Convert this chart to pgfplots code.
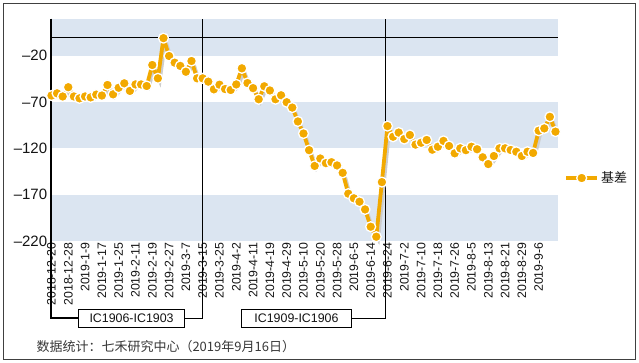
\documentclass[border=0pt]{standalone}
\usepackage{fontspec}
\setmainfont{Liberation Sans}
\newfontfamily\cjk{Noto Sans CJK SC}
\usepackage{pgfplots}
\pgfplotsset{compat=1.18}
\usepackage{pgfplotstable}
\definecolor{band}{RGB}{219,229,241}
\definecolor{ora}{RGB}{242,169,0}
\definecolor{shad}{RGB}{205,205,205}
\definecolor{txt}{RGB}{20,20,20}

\pgfplotstableread{
idx val
0 -63
1 -60.6
2 -64
3 -54
4 -64
5 -66
6 -64
7 -65
8 -62
9 -63
10 -51.6
11 -61.7
12 -54.6
13 -49.8
14 -58
15 -51
16 -51
17 -52.7
18 -30
19 -44.4
20 -1
21 -20.3
22 -27.5
23 -31
24 -37.3
25 -25.7
26 -44.4
27 -44.4
28 -48
29 -56.3
30 -51.3
31 -56
32 -57
33 -51
34 -33.6
35 -49.5
36 -55
37 -67
38 -53
39 -57.5
40 -67
41 -62.7
42 -70.2
43 -76
44 -91
45 -104
46 -122
47 -139
48 -131
49 -136
50 -135
51 -138.5
52 -146.5
53 -169
54 -174
55 -177.7
56 -186
57 -204.7
58 -215.5
59 -156.5
60 -96
61 -107.5
62 -103
63 -110
64 -105.6
65 -116
66 -114
67 -111
68 -121.5
69 -118.3
70 -112
71 -117.5
72 -125.4
73 -120
74 -122
75 -118.3
76 -121
77 -129.7
78 -137
79 -128.3
80 -120
81 -120
82 -121.8
83 -123.7
84 -128.3
85 -123.7
86 -125
87 -101
88 -98.5
89 -86
90 -102
}\basis

\begin{document}
\begin{tikzpicture}
\path[use as bounding box] (0pt,0pt) rectangle (639pt,363pt);
\draw[black!75, line width=0.9pt] (3.3pt,3.8pt) rectangle (635pt,359.7pt);
\begin{axis}[
  at={(50.7pt,122.1pt)}, anchor=south west, scale only axis,
  width=507.3pt, height=222.2pt,
  xmin=-0.14, xmax=90.45, ymin=-220, ymax=20,
  clip=false,
  axis line style={draw=none}, tick style={draw=none},
  ytick={-220,-170,-120,-70,-20},
  yticklabels={–220,–170,–120,–70,–20},
  yticklabel style={font=\fontsize{15}{15}\selectfont, text=txt},
  xtick={0,3,...,87},
  xticklabels={2018-12-20,2018-12-28,2019-1-9,2019-1-17,2019-1-25,2019-2-11,2019-2-19,2019-2-27,2019-3-7,2019-3-15,2019-3-25,2019-4-2,2019-4-11,2019-4-19,2019-4-29,2019-5-10,2019-5-20,2019-5-28,2019-6-5,2019-6-14,2019-6-24,2019-7-2,2019-7-10,2019-7-18,2019-7-26,2019-8-5,2019-8-13,2019-8-21,2019-8-29,2019-9-6},
  xticklabel style={rotate=90, anchor=east, inner sep=1.5pt, font=\fontsize{12.3}{12.3}\selectfont, text=txt},
  legend style={at={(axis description cs:1.012,0.283)}, anchor=west, draw=none, fill=none, inner sep=0pt,
    font=\cjk\fontsize{13}{13}\selectfont, text=txt, cells={anchor=west}},
  legend image code/.code={\draw[mark repeat=2,mark phase=2,#1] plot coordinates {(0pt,0pt) (15.5pt,0pt) (31pt,0pt)};},
]
\fill[band] (axis cs:-0.14,20) rectangle (axis cs:90.45,-20);
\fill[band] (axis cs:-0.14,-70) rectangle (axis cs:90.45,-120);
\fill[band] (axis cs:-0.14,-170) rectangle (axis cs:90.45,-220);
\draw[black, line width=0.8pt] (axis cs:-0.14,0) -- (axis cs:90.45,0);
\node[draw=black, line width=0.8pt, minimum width=106pt, minimum height=18pt, inner sep=0pt,
  font=\fontsize{12.4}{12.4}\selectfont, text=txt, fill=white] (b1) at (axis cs:14.3,-303.3) {IC1906-IC1903};
\node[draw=black, line width=0.8pt, minimum width=110pt, minimum height=18pt, inner sep=0pt,
  font=\fontsize{12.4}{12.4}\selectfont, text=txt, fill=white] (b2) at (axis cs:43.75,-303.3) {IC1909-IC1906};
\draw[black, line width=1.6pt] (axis cs:-0.14,20) |- (b1.west);
\draw[black, line width=1pt] (b1.east) -| (axis cs:27,20);
\draw[black, line width=1pt] (b2.east) -| (axis cs:59.7,20);
\addplot[shad, line width=3.8pt, forget plot, transform canvas={xshift=1.8pt,yshift=-2.2pt}] table[x=idx,y=val] {\basis};
\addplot[ora, line width=3.8pt, line join=round, mark=*, mark size=5pt,
  mark options={fill=ora, draw=white, line width=1.3pt}] table[x=idx,y=val] {\basis};
\addlegendentry{基差}
\end{axis}
\node[anchor=west, font=\cjk\fontsize{13}{13}\selectfont, text=txt!85] at (33pt,16.3pt) {数据统计：七禾研究中心（2019年9月16日）};
\end{tikzpicture}
\end{document}
